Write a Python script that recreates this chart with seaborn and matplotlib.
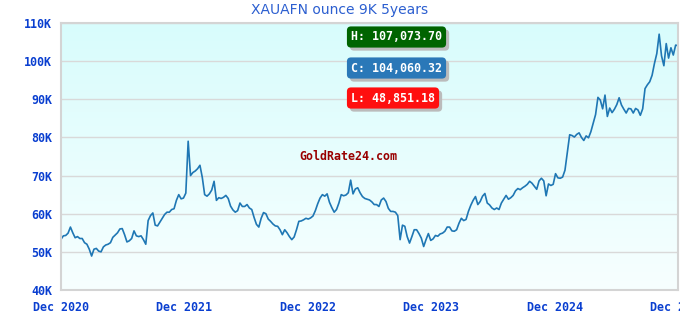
import numpy as np
import pandas as pd
import matplotlib
matplotlib.use('Agg')
import matplotlib.pyplot as plt
import matplotlib.patheffects as pe
from matplotlib.colors import LinearSegmentedColormap
import seaborn as sns

# weekly price (thousands AFN), Dec 2020 -> Dec 2025
price_2021 = [53.3, 54.2, 54.3, 54.9, 56.5, 55.0, 53.7, 54.0, 53.5, 53.5,
              52.4, 52.0, 50.7, 48.9, 50.7, 50.9, 50.2, 50.0, 51.3, 51.8,
              52.0, 52.4, 53.8, 54.4, 55.0, 56.0, 56.1, 54.5, 52.6, 52.9,
              53.5, 55.5, 54.2, 54.0, 54.2, 53.2, 52.0, 58.2, 59.5, 60.2,
              57.0, 56.8, 57.8, 58.8, 59.8, 60.4, 60.4, 61.1, 61.3, 63.5,
              65.0, 63.9, 64.1, 65.4, 79.0, 70.0, 70.8, 71.2, 71.8, 72.7,
              69.5, 65.0, 64.6, 65.2, 66.2]
price_2022 = [68.5, 63.5, 64.2, 64.0, 64.3, 64.8, 64.0, 62.0, 61.0, 60.4,
              60.8, 62.8, 61.9, 61.9, 62.4, 61.5, 61.1, 59.0, 57.2, 56.5,
              58.8, 60.3, 60.0, 58.6, 58.0, 57.3, 56.8, 56.7, 55.8, 54.5,
              55.8, 55.0, 54.0, 53.2, 53.9, 55.8, 58.0, 58.1, 58.4, 58.8,
              58.6, 58.9, 59.4, 60.8, 62.6, 64.1, 65.0, 64.6, 65.2, 63.0,
              61.6, 60.4, 61.1, 62.8, 65.0, 64.7, 64.9, 65.5, 68.8, 65.2,
              66.5, 66.8, 65.5, 64.5, 64.0, 63.8]
price_2023 = [63.6, 63.1, 62.4, 62.4, 61.9, 63.6, 64.1, 63.2, 61.4, 60.6,
              60.6, 60.4, 59.5, 53.2, 57.0, 56.7, 54.0, 52.3, 54.0, 55.8,
              55.8, 54.8, 53.6, 51.4, 53.2, 54.8, 53.0, 53.4, 54.3, 54.1,
              54.7, 54.9, 55.4, 56.5, 56.5, 55.5, 55.4, 55.8, 57.5, 58.8,
              58.2, 58.5, 60.6, 62.2, 63.5, 64.5, 62.4, 63.2, 64.6, 65.3,
              62.8, 62.3, 61.5, 61.1, 61.5, 61.1, 62.8, 63.8, 64.8, 63.8,
              64.2, 64.8, 66.0, 66.6, 66.3, 66.8, 67.2]
price_2024 = [67.7, 68.5, 68.0, 67.2, 66.4, 68.6, 69.3, 68.6, 64.7, 67.8,
              67.4, 67.7, 70.5, 69.4, 69.3, 69.6, 71.4, 76.0, 80.7, 80.5,
              80.1, 80.8, 81.2, 80.0, 79.2, 80.4, 79.9, 81.5, 83.8, 86.0,
              90.5, 89.8, 87.5, 91.1, 85.5, 87.7, 86.5, 87.4, 88.6, 90.4,
              88.5, 87.4, 86.4, 87.6, 87.5, 86.4, 87.6, 87.2, 85.8, 87.5,
              92.8, 93.8, 94.6, 96.3, 99.4, 102.0, 107.07, 101.4, 98.8, 104.6,
              100.8, 103.5, 101.6, 104.2, 104.06]

price_k = price_2021 + price_2022 + price_2023 + price_2024
dates = pd.date_range('2020-12-01', '2025-12-01', periods=len(price_k))
df = pd.DataFrame({'date': dates, 'price': np.array(price_k) * 1000})

y_ticks = [40000, 50000, 60000, 70000, 80000, 90000, 100000, 110000]
y_labels = ['40K', '50K', '60K', '70K', '80K', '90K', '100K', '110K']
x_ticks = pd.to_datetime(['2020-12-01', '2021-12-01', '2022-12-01',
                          '2023-12-01', '2024-12-01', '2025-12-01'])
x_labels = ['Dec 2020', 'Dec 2021', 'Dec 2022', 'Dec 2023', 'Dec 2024', 'Dec 2025']

title = 'XAUAFN ounce 9K 5years'
stat_labels = ['H: 107,073.70', 'C: 104,060.32', 'L: 48,851.18']
stat_colors = ['#006400', '#2a78b8', '#ff0f0f']

sns.set_style('white')
plt.rcParams['font.family'] = ['DejaVu Sans']
mono = dict(family='DejaVu Sans Mono', fontweight='bold', fontsize=8.4)

W, H = 680, 320
fig = plt.figure(figsize=(6.8, 3.2), dpi=100)
pos = [61 / W, 30 / H, 617 / W, 267 / H]

# gradient background behind the plot
bg = fig.add_axes(pos, zorder=0)
cmap = LinearSegmentedColormap.from_list('bg', ['#f7ffff', '#d8fcfc'])
bg.imshow(np.linspace(0, 1, 256).reshape(-1, 1), cmap=cmap, aspect='auto',
          origin='lower', extent=[0, 1, 0, 1])
bg.axis('off')

ax = fig.add_axes(pos, zorder=1)
ax.patch.set_alpha(0)
sns.lineplot(data=df, x='date', y='price', ax=ax, color='#1f77b4', linewidth=1.2)

ax.set_xlim(x_ticks[0], x_ticks[-1])
ax.set_ylim(40000, 110000)
ax.set_yticks(y_ticks)
ax.set_yticklabels(y_labels, color='#0a3fd0', **mono)
ax.set_xticks(x_ticks)
ax.set_xticklabels(x_labels, color='#0a3fd0', **mono)
ax.tick_params(axis='y', length=0, pad=6.5)
ax.tick_params(axis='x', length=0, pad=8)
ax.set_xlabel('')
ax.set_ylabel('')
ax.yaxis.grid(True, color='#d9d9d9', linewidth=1)
ax.xaxis.grid(False)
for sp in ax.spines.values():
    sp.set_color('#d4d4d4')
    sp.set_linewidth(1.5)

fig.text(0.5, 1 - 10 / H, title, ha='center', va='center', color='#2c5fd0', fontsize=10)

# high / close / low badges with a grey drop shadow
for label, color, ypix in zip(stat_labels, stat_colors, [37, 68, 98]):
    t = fig.text(351 / W, 1 - ypix / H, label, color='white', ha='left', va='center',
                 bbox=dict(boxstyle='round,pad=0.35', fc=color, ec='none'), **mono)
    t.get_bbox_patch().set_path_effects([
        pe.SimplePatchShadow(offset=(2.2, -2.2), shadow_rgbFace='#bbbbbb', alpha=1),
        pe.Normal()])

fig.text(348 / W, 1 - 157 / H, 'GoldRate24.com', color='#990000', ha='center',
         va='center', **mono)

fig.savefig('out.png', dpi=100)
